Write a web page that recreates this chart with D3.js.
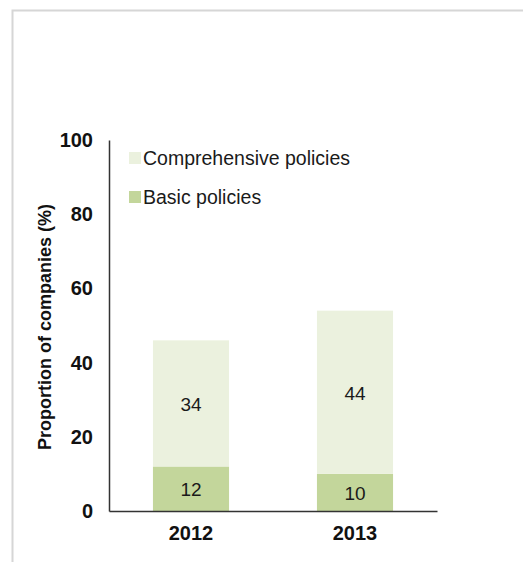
<!DOCTYPE html>
<html>
<head>
<meta charset="utf-8">
<script src="https://cdn.jsdelivr.net/npm/d3@7"></script>
<style>
  html, body { margin: 0; padding: 0; background: #fff; }
  svg { display: block; font-family: Arial, "Liberation Sans", sans-serif; }
</style>
</head>
<body>
<svg id="chart" width="523" height="562"></svg>
<script>
// Share of companies with policies, by year (%)
const years = ["2012", "2013"];
const basicPolicies = [12, 10];
const comprehensivePolicies = [34, 44];
const seriesNames = ["Comprehensive policies", "Basic policies"];
const seriesColors = ["#EBF1DE", "#C3D69B"];
const yTicks = [0, 20, 40, 60, 80, 100];

const svg = d3.select("#chart");

// frame around the figure
svg.append("path")
  .attr("d", "M12.5,562 V10.5 H523")
  .attr("fill", "none")
  .attr("stroke", "#d6d6d6")
  .attr("stroke-width", 2);

const x0 = 109, x1 = 437, yBase = 511, yTop = 140;

const x = d3.scaleBand()
  .domain(years)
  .range([x0, x1])
  .paddingInner(0.536)
  .paddingOuter(0.268);

const y = d3.scaleLinear().domain([0, 100]).range([yBase, yTop]);

const rows = years.map((yr, i) => ({ year: yr, basic: basicPolicies[i], comprehensive: comprehensivePolicies[i] }));
const stack = d3.stack().keys(["basic", "comprehensive"])(rows);
const colorOf = { basic: seriesColors[1], comprehensive: seriesColors[0] };

const layers = svg.append("g").selectAll("g")
  .data(stack).join("g")
  .attr("fill", d => colorOf[d.key]);

layers.selectAll("rect")
  .data(d => d).join("rect")
  .attr("x", d => x(d.data.year))
  .attr("width", x.bandwidth())
  .attr("y", d => y(d[1]))
  .attr("height", d => y(d[0]) - y(d[1]));

// value labels
stack.forEach(layer => {
  svg.append("g").selectAll("text")
    .data(layer).join("text")
    .attr("x", d => x(d.data.year) + x.bandwidth() / 2)
    .attr("y", d => (y(d[0]) + y(d[1])) / 2 + 1)
    .attr("dy", "0.35em")
    .attr("text-anchor", "middle")
    .attr("font-size", 19)
    .attr("fill", "#1a1a1a")
    .text(d => d[1] - d[0]);
});

// y axis
const yAxis = svg.append("g")
  .attr("transform", `translate(${x0},0)`)
  .call(d3.axisLeft(y).tickValues(yTicks).tickSize(0).tickPadding(16));
yAxis.select(".domain").attr("stroke", "#333").attr("stroke-width", 1.5);
yAxis.selectAll("text")
  .attr("font-size", 20)
  .attr("font-weight", "bold")
  .attr("fill", "#111")
  .attr("font-family", "Arial, 'Liberation Sans', sans-serif");

// x axis
const xAxis = svg.append("g")
  .attr("transform", `translate(0,${yBase})`)
  .call(d3.axisBottom(x).tickSize(0).tickPadding(15));
xAxis.select(".domain").attr("stroke", "#333").attr("stroke-width", 1.5);
xAxis.selectAll("text")
  .attr("font-size", 20)
  .attr("font-weight", "bold")
  .attr("fill", "#111")
  .attr("font-family", "Arial, 'Liberation Sans', sans-serif");

// y axis title
svg.append("text")
  .attr("transform", "translate(45,327) rotate(-90)")
  .attr("dy", "0.35em")
  .attr("text-anchor", "middle")
  .attr("font-size", 18)
  .attr("font-weight", "bold")
  .attr("fill", "#111")
  .text("Proportion of companies (%)");

// legend
const legend = svg.append("g").selectAll("g")
  .data(seriesNames).join("g")
  .attr("transform", (d, i) => `translate(129,${158 + i * 39})`);
legend.append("rect")
  .attr("y", -6).attr("width", 12).attr("height", 12)
  .attr("fill", (d, i) => seriesColors[i]);
legend.append("text")
  .attr("x", 14)
  .attr("dy", "0.35em")
  .attr("font-size", 19.5)
  .attr("fill", "#1a1a1a")
  .text(d => d);
</script>
</body>
</html>
